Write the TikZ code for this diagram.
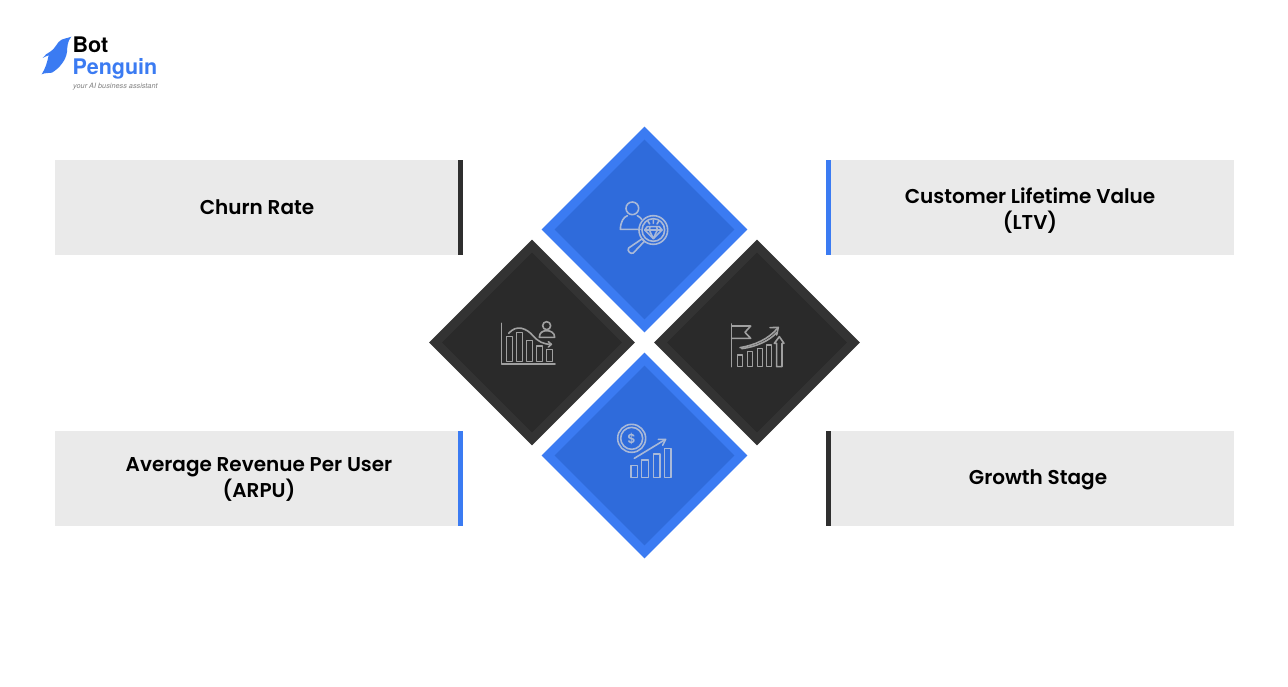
\documentclass[tikz,border=0pt]{standalone}
\usepackage{fontspec}
\setmainfont{Poppins SemiBold}
\newfontfamily\logofont{TeX Gyre Heros}
\usetikzlibrary{shapes.geometric}
\definecolor{bpblue}{HTML}{3B7BF2}
\definecolor{bpinner}{HTML}{2F6BDB}
\definecolor{bpdarkin}{HTML}{2A2A2A}
\definecolor{bpdarkout}{HTML}{333333}
\definecolor{bpbox}{HTML}{EAEAEA}
\definecolor{bpbar}{HTML}{2F2F2F}
\definecolor{iconlight}{HTML}{A9B9D8}
\definecolor{icongray}{HTML}{A0A0A0}
\tikzset{
  lab/.style={font=\fontsize{20}{26}\selectfont, text=black, align=center},
  boxnode/.style={rectangle, fill=bpbox, minimum width=403pt, minimum height=95pt, inner sep=0pt},
  txt/.style={lab, inner sep=0pt},
  barnode/.style={rectangle, minimum width=5pt, minimum height=95pt, inner sep=0pt},
  dia/.style={diamond, aspect=1, minimum width=206pt, minimum height=206pt, inner sep=0pt},
  diain/.style={diamond, aspect=1, minimum width=180pt, minimum height=180pt, inner sep=0pt},
  iconb/.style={draw=iconlight, line width=1.6pt, line join=round, line cap=round},
  icong/.style={draw=icongray, line width=1.6pt, line join=round, line cap=round},
  zoomscale/.style={x=0.3333pt, y=-0.3333pt}
}
\begin{document}
\begin{tikzpicture}[x=1pt,y=-1pt]
\useasboundingbox (0,0) rectangle (1288,686);
\fill[white] (0,0) rectangle (1288,686);

% boxes
\node[boxnode] (b1) at (256.5,207.5) {};
\node[txt] (t1) at (257,207.5) {Churn Rate};
\node[barnode, fill=bpbar] (b1bar) at (460.5,207.5) {};
\node[boxnode] (b2) at (1032.5,207.5) {};
\node[txt] (t2) at (1030,210.5) {Customer Lifetime Value\\(LTV)};
\node[barnode, fill=bpblue] (b2bar) at (828.5,207.5) {};
\node[boxnode] (b3) at (256.5,478.5) {};
\node[txt] (t3) at (259,479.5) {Average Revenue Per User\\(ARPU)};
\node[barnode, fill=bpblue] (b3bar) at (460.5,478.5) {};
\node[boxnode] (b4) at (1032.5,478.5) {};
\node[txt] (t4) at (1038,480) {Growth Stage};
\node[barnode, fill=bpbar] (b4bar) at (828.5,478.5) {};

% diamonds
\node[dia, fill=bpblue] (dt) at (644.5,229.5) {};
\node[diain, fill=bpinner] (dti) at (644.5,229.5) {};
\node[dia, fill=bpdarkout] (dl) at (532,342.5) {};
\node[diain, fill=bpdarkin] (dli) at (532,342.5) {};
\node[dia, fill=bpdarkout] (dr) at (757,342.5) {};
\node[diain, fill=bpdarkin] (dri) at (757,342.5) {};
\node[dia, fill=bpblue] (db) at (644.5,455.5) {};
\node[diain, fill=bpinner] (dbi) at (644.5,455.5) {};

% icon: person + magnifier + gem
\begin{scope}[shift={(590,180)}, zoomscale, iconb]
  \draw (127,85) circle [radius=19];
  \draw (112,107) .. controls (100,112) and (92,125) .. (91,148) -- (150,148);
  \draw (142,107) .. controls (148,110) and (152,114) .. (155,118);
  \draw (190,150) circle [radius=43];
  \draw (190,150) circle [radius=34];
  \draw (172,140) -- (208,140) -- (216,150) -- (190,176) -- (164,150) -- cycle;
  \draw (164,150) -- (216,150);
  \draw (180,140) -- (178,150) -- (190,176) -- (202,150) -- (200,140);
  \draw (190,120) -- (190,130) (174,124) -- (179,132) (206,124) -- (201,132);
  \draw (157,176) -- (163,184) -- (130,219) .. controls (122,224) and (110,212) .. (116,204) -- cycle;
\end{scope}

% icon: falling bars + person
\begin{scope}[shift={(480,300)}, zoomscale, icong]
  \draw (65,70) -- (65,192) -- (225,192);
  \draw (80,110) rectangle (97,185);
  \draw (110,97) rectangle (127,185);
  \draw (140,122) rectangle (157,185);
  \draw (170,138) rectangle (187,185);
  \draw (200,148) rectangle (217,185);
  \draw (86,100) .. controls (110,72) and (140,85) .. (160,108) .. controls (175,125) and (190,133) .. (214,133);
  \draw (205,125) -- (214,133) -- (205,141);
  \draw (200,77) circle [radius=12];
  \draw (178,112) .. controls (178,98) and (188,92) .. (200,92) .. controls (212,92) and (224,98) .. (224,112) -- cycle;
\end{scope}

% icon: flag + growth
\begin{scope}[shift={(710,300)}, zoomscale, icong]
  \draw (65,72) -- (65,200);
  \draw (65,78) -- (122,78) -- (105,97) -- (122,115) -- (65,115);
  \draw (83,165) rectangle (98,200);
  \draw (113,155) rectangle (128,200);
  \draw (142,145) rectangle (157,200);
  \draw (170,135) rectangle (185,200);
  \draw (200,200) -- (200,130) -- (193,130) -- (208,110) -- (222,130) -- (216,130) -- (216,200) -- cycle;
  \draw (90,143) .. controls (135,135) and (175,118) .. (203,84);
  \draw (95,146) .. controls (140,140) and (178,122) .. (200,98);
  \draw (180,83) -- (205,82) -- (200,105);
\end{scope}

% icon: coin + growth
\begin{scope}[shift={(600,410)}, zoomscale, iconb]
  \draw (95,85) circle [radius=42];
  \draw (95,85) circle [radius=33];
  \node[text=iconlight, font=\fontsize{13}{13}\selectfont, inner sep=0pt, draw=none] (dollar) at (95,86) {\$};
  \draw (103,145) -- (195,89);
  \draw (175,88) -- (197,88) -- (188,106);
  \draw (93,167) rectangle (112,202);
  \draw (125,150) rectangle (145,202);
  \draw (160,132) rectangle (180,202);
  \draw (193,115) rectangle (213,202);
\end{scope}

% logo
\begin{scope}[shift={(38,32)}, zoomscale]
  \fill[bpblue] (100,14) .. controls (88,20) and (72,18) .. (62,30)
    .. controls (54,40) and (48,52) .. (38,58)
    .. controls (28,63) and (20,70) .. (14,78)
    .. controls (20,74) and (26,72) .. (32,70)
    .. controls (28,90) and (22,110) .. (11,127)
    .. controls (20,122) and (32,124) .. (42,122)
    .. controls (65,108) and (84,84) .. (87,60)
    .. controls (88,45) and (88,28) .. cycle;
\end{scope}
\node[anchor=base west, inner sep=0pt, font=\logofont\fontsize{21.5}{21.5}\selectfont\bfseries, text=black] (logo1) at (72.5,52.5) {Bot};
\node[anchor=base west, inner sep=0pt, font=\logofont\fontsize{21.5}{21.5}\selectfont\bfseries, text=bpblue] (logo2) at (72.5,74) {Penguin};
\node[anchor=base west, inner sep=0pt, font=\logofont\fontsize{7.3}{7.3}\selectfont\itshape, text=gray] (logo3) at (73,88) {your AI business assistant};
\end{tikzpicture}
\end{document}
